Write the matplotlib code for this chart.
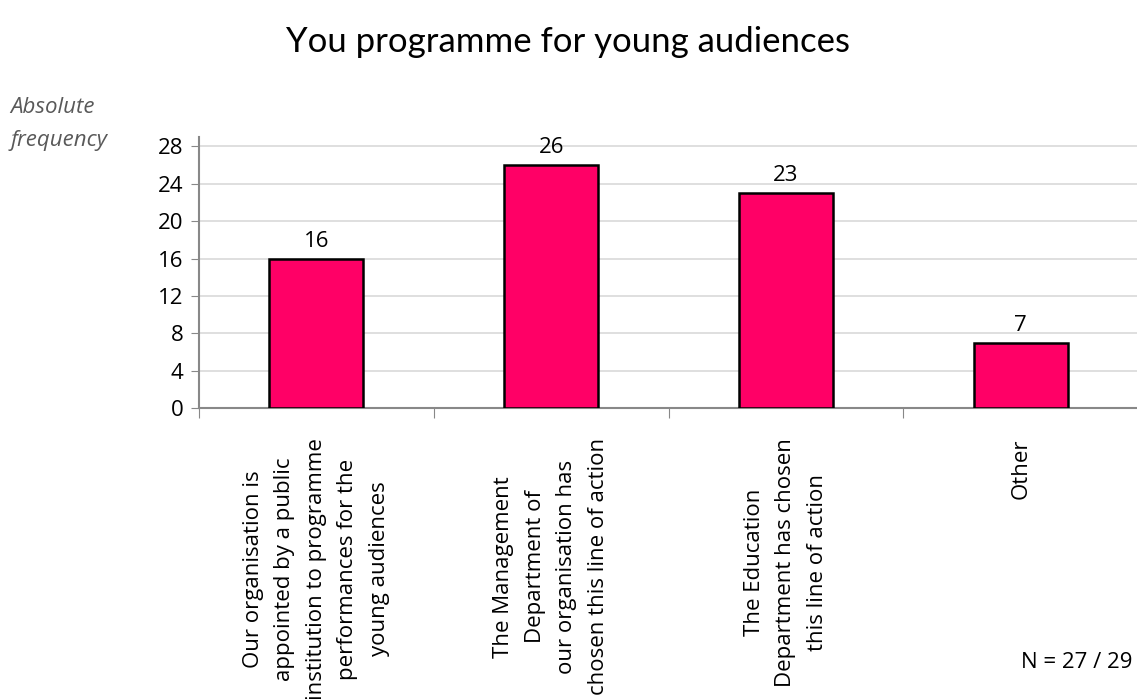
import numpy as np
import matplotlib.pyplot as plt

categories = [
    "Our organisation is\nappointed by a public\ninstitution to programme\nperformances for the\nyoung audiences",
    "The Management\nDepartment of\nour organisation has\nchosen this line of action",
    "The Education\nDepartment has chosen\nthis line of action",
    "Other",
]
counts = [16, 26, 23, 7]
yticks = [0, 4, 8, 12, 16, 20, 24, 28]

plt.rcParams['font.family'] = ['Open Sans', 'DejaVu Sans']
fs = 16

fig = plt.figure(figsize=(11.37, 6.99), dpi=100)
ax = fig.add_axes([0.175, 0.416, 0.826, 0.388])

x = np.arange(len(counts))
ax.bar(x, counts, width=0.4, color="#FF0066", edgecolor="black", linewidth=1.8, zorder=3)

for xi, v in zip(x, counts):
    ax.annotate(str(v), (xi, v), xytext=(0, 5), textcoords="offset points",
                ha="center", va="bottom", fontsize=fs)

ax.set_xlim(-0.5, len(counts) - 0.5)
ax.set_ylim(0, 29)
ax.set_yticks(yticks)
ax.tick_params(axis="y", labelsize=fs, length=6, color="#888888", pad=5)

# category labels between the boundary ticks
ax.set_xticks(np.arange(len(counts) + 1) - 0.5)
ax.set_xticklabels([])
ax.tick_params(axis="x", length=7, color="#888888")
for xi, lab in zip(x, categories):
    ax.text(xi, -3.2, lab, rotation=90, ha="center", va="top",
            multialignment="center", fontsize=fs, linespacing=1.66,
            clip_on=False)

ax.grid(axis="y", color="#d9d9d9", linewidth=1.2, zorder=0)
for s in ["top", "right"]:
    ax.spines[s].set_visible(False)
for s in ["left", "bottom"]:
    ax.spines[s].set_color("#888888")
    ax.spines[s].set_linewidth(1.5)

fig.text(0.5, 0.94, "You programme for young audiences", ha="center", va="center",
         fontsize=25, family=["Lato", "DejaVu Sans"])
fig.text(0.009, 0.822, "Absolute\nfrequency", ha="left", va="center", fontsize=fs,
         style="italic", color="#595959", linespacing=1.75)
fig.text(0.996, 0.052, "N = 27 / 29", ha="right", va="center", fontsize=fs)

fig.savefig("out.png", dpi=100)
